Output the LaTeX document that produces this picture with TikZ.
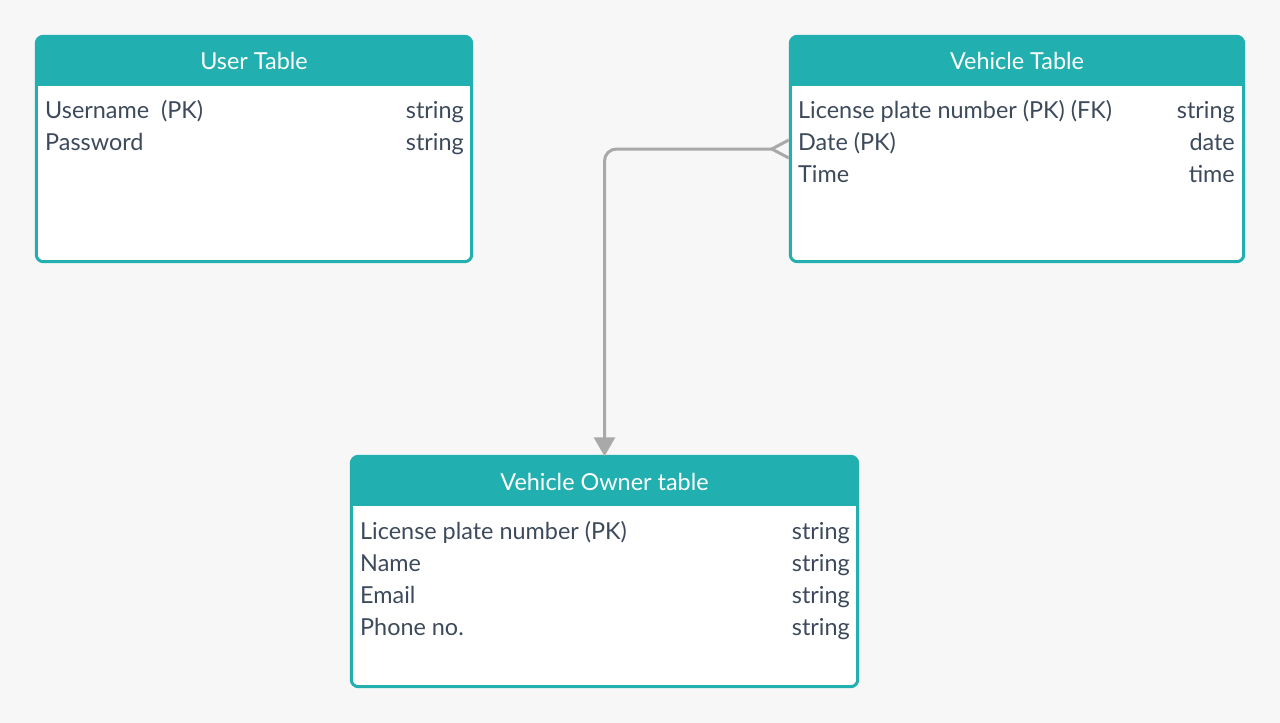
\documentclass[tikz,border=0pt]{standalone}
\usepackage{fontspec}
\setmainfont{Lato}
\usetikzlibrary{arrows.meta}

\definecolor{bgcol}{HTML}{F7F7F7}
\definecolor{hdrcol}{HTML}{22AFAF}
\definecolor{txtcol}{HTML}{3D4A5C}
\definecolor{conncol}{HTML}{A9A9A9}

\begin{document}
\begin{tikzpicture}[x=1pt, y=-1pt,
    tbox/.style={
    draw=none,
    fill=white,
    inner sep=0pt},
    tborder/.style={
    draw=hdrcol,
    line width=3pt,
    rounded corners=7pt},
    ttitle/.style={
    font=\fontsize{23.4}{28}\selectfont,
    text=white,
    inner sep=0pt},
    fname/.style={
    font=\fontsize{23.4}{28}\selectfont,
    text=txtcol,
    inner sep=0pt,
    anchor=base west},
    ftype/.style={
    font=\fontsize{23.4}{28}\selectfont,
    text=txtcol,
    inner sep=0pt,
    anchor=base east},
    conn/.style={
    draw=conncol,
    line width=3pt,
    rounded corners=12pt}]

    \useasboundingbox[fill=bgcol] (0,0) rectangle (1280,723);

    % table boxes
    \node[tbox, minimum width=435pt, minimum height=225pt] (user) at (254,149) {};
    \node[tbox, minimum width=453pt, minimum height=225pt] (vehicle) at (1017,149) {};
    \node[tbox, minimum width=506pt, minimum height=230pt] (owner) at (604.5,571.5) {};

    % headers and borders
    \foreach \t in {user,vehicle,owner} {
        \begin{scope}
            \clip[rounded corners=7pt] (\t.south west) rectangle (\t.north east);
            \fill[hdrcol] (\t.north west) rectangle ([yshift=-50pt]\t.north east);
        \end{scope}
        \draw[tborder] (\t.south west) rectangle (\t.north east);
    }

    \node[ttitle] (user-title) at ([yshift=-25pt]user.north) {User Table};
    \node[ttitle] (vehicle-title) at ([yshift=-25pt]vehicle.north) {Vehicle Table};
    \node[ttitle] (owner-title) at ([yshift=-26pt]owner.north) {Vehicle Owner table};

    % fields
    \foreach \n/\ty [count=\i] in {Username\ \ (PK)/string, Password/string} {
        \node[fname] (user-n\i) at (45,86+32*\i) {\n};
        \node[ftype] (user-t\i) at (464,86+32*\i) {\ty};
    }
    \foreach \n/\ty [count=\i] in {License plate number (PK) (FK)/string, Date (PK)/date, Time/time} {
        \node[fname] (vehicle-n\i) at (798,86+32*\i) {\n};
        \node[ftype] (vehicle-t\i) at (1235,86+32*\i) {\ty};
    }
    \foreach \n/\ty [count=\i] in {License plate number (PK)/string, Name/string, Email/string, Phone no./string} {
        \node[fname] (owner-n\i) at (360,507+32*\i) {\n};
        \node[ftype] (owner-t\i) at (850,507+32*\i) {\ty};
    }

    % relation
    \coordinate (vfoot) at (vehicle.west |- 0,149);
    \draw[conn, {Straight Barb[reversed, length=17pt, width=18pt]}-{Triangle[length=19pt, width=21pt]}]
        (vfoot) -| (owner.north);
\end{tikzpicture}
\end{document}
